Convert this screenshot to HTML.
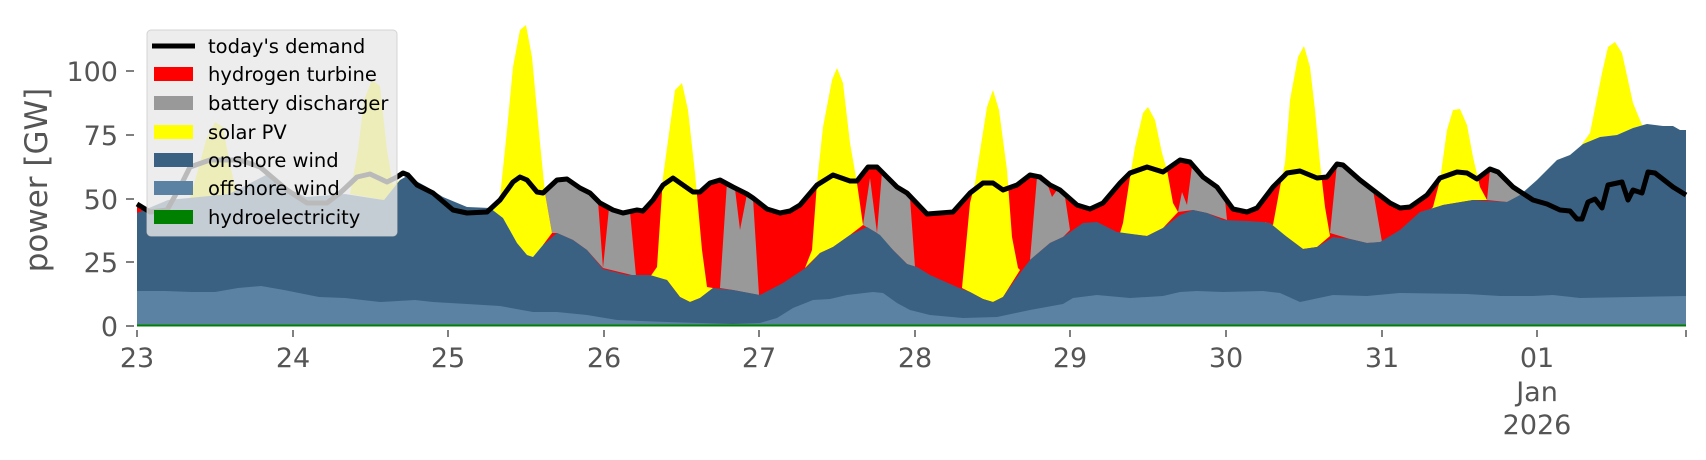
<!DOCTYPE html>
<html><head><meta charset="utf-8"><style>
html,body{margin:0;padding:0;background:#fff;}
svg{display:block;font-family:"DejaVu Sans","Liberation Sans",sans-serif;}
</style></head><body>
<svg width="1706" height="460" viewBox="0 0 1706 460" xmlns="http://www.w3.org/2000/svg">
<rect width="1706" height="460" fill="#fff"/>
<polygon fill="#ff0000" points="137,326 137,204 145,211 161,212 172,200 172,326"/>
<polygon fill="#ff0000" points="543,326 543,193 557,180 567,179 580,188 590,193 600,203 613,210 623,213 637,210 643,211 653,200 663,185 673,178 683,185 693,192 700,192 710,183 720,180 733,187 747,194 753,198 767,209 780,213 790,211 800,205 817,185 833,175 850,181 857,181 868,167 877,167 897,187 907,193 927,214 953,212 970,193 983,183 993,183 1003,190 1017,185 1030,175 1040,177 1050,185 1060,190 1077,205 1090,209 1103,203 1120,183 1130,173 1147,167 1163,172 1180,160 1190,162 1203,177 1217,187 1233,209 1247,212 1257,208 1273,187 1287,173 1300,171 1317,178 1327,177 1337,164 1343,165 1360,180 1373,190 1390,203 1400,208 1410,207 1427,195 1440,178 1457,172 1467,173 1477,179 1490,169 1498,172 1513,187 1530,198 1530,326"/>
<g fill="#999999">
<polygon points="545,193 557,180 567,179 580,188 590,193 598,201 603,268 587,250 573,240 557,233 552,233"/>
<polygon points="603,268 609,208 613,210 623,213 630,212 636,276"/>
<polygon points="720,288 727,182 733,187 735,189 740,230 747,194 753,198 759,295 733,290"/>
<polygon points="863,225 870,178 877,233"/>
<polygon points="877,233 882,172 897,187 907,193 910,198 915,267 907,264 893,250"/>
<polygon points="1030,260 1037,177 1040,177 1047,183 1052,197 1057,190 1060,190 1065,197 1070,230 1063,237 1050,243"/>
<polygon points="1178,212 1182,192 1187,205 1192,166 1203,177 1217,187 1225,200 1227,220 1207,213 1193,210"/>
<polygon points="1330,233 1337,164 1343,165 1360,180 1373,190 1382,242 1367,243 1350,239"/>
<polygon points="1487,200 1490,169 1498,172 1513,187 1522,195 1507,202"/>
</g>
<g fill="#ffff00">
<polygon points="190,198 198,170 206,140 215,122 223,127 230,165 237,194"/>
<polygon points="350,194 358,150 364,100 372,80 380,86 387,150 393,185 400,180 384,200"/>
<polygon points="490,208 500,197 507,130 513,67 520,30 526,25 532,57 540,143 545,193 552,233 543,245 533,257 527,255 517,243 503,218"/>
<polygon points="650,277 657,267 663,177 675,90 682,83 688,110 695,173 702,250 707,287 713,288 700,298 690,302 680,297 667,280"/>
<polygon points="805,268 812,250 817,183 823,127 832,80 837,68 843,83 850,143 857,183 863,225 850,235 833,247 820,253"/>
<polygon points="962,288 970,203 975,183 987,107 993,90 999,110 1007,170 1012,237 1018,268 1020,270 1003,297 993,302 983,299 970,292"/>
<polygon points="1120,233 1123,223 1130,177 1135,147 1143,113 1148,107 1155,120 1162,153 1167,170 1173,203 1178,212 1163,228 1147,236"/>
<polygon points="1265,222 1273,225 1280,187 1285,163 1290,100 1298,57 1304,46 1310,67 1315,110 1320,163 1325,207 1330,236 1317,247 1303,249 1287,237"/>
<polygon points="1430,210 1433,207 1440,180 1447,130 1453,110 1460,109 1467,125 1473,157 1480,187 1487,200 1473,200 1443,205"/>
<polygon points="1580,147 1590,133 1602,73 1608,47 1615,42 1622,53 1633,103 1642,125 1647,124 1633,128 1617,135 1600,137 1583,144"/>
</g>
<polygon fill="#3b6182" points="137,326 137,213 168,200 199,197 229,194 268,174 291,190 306,197 345,194 384,200 400,180 407,176 427,187 443,197 467,207 490,208 503,218 517,243 527,255 533,257 543,245 557,233 573,240 587,250 603,269 627,275 650,275 667,280 680,297 690,302 700,298 713,288 733,290 760,295 783,283 807,267 820,253 833,247 850,235 867,227 880,235 893,250 907,264 917,267 930,275 957,287 970,292 983,299 993,302 1003,297 1017,277 1030,260 1050,243 1063,237 1083,223 1097,222 1117,232 1147,236 1163,228 1180,215 1193,210 1207,213 1223,220 1247,221 1263,222 1270,223 1287,237 1303,249 1317,247 1333,237 1350,239 1367,243 1380,242 1400,230 1420,212 1443,205 1473,200 1490,201 1507,202 1520,195 1537,180 1557,160 1570,155 1583,144 1600,137 1617,135 1633,128 1647,124 1663,126 1673,126 1680,130 1686,130 1686,326"/>
<polygon fill="#5b82a3" points="137,326 137,291 165,291 192,292 215,292 238,288 261,286 284,290 319,297 345,298 380,302 415,300 433,302 467,304 500,306 533,312 557,312 587,315 617,320 667,322 700,323 733,324 760,323 777,318 793,308 813,300 830,299 847,295 873,292 883,293 897,303 910,310 930,315 963,318 997,317 1030,310 1063,304 1073,298 1097,295 1130,298 1163,296 1180,292 1197,291 1223,292 1263,291 1280,293 1300,302 1333,295 1367,296 1400,293 1467,294 1500,296 1533,296 1553,295 1580,298 1633,297 1686,296 1686,326"/>
<rect x="137" y="324.5" width="1549" height="2" fill="#008000"/>
<polyline fill="none" stroke="#000" stroke-width="5" stroke-linejoin="round" points="137,204 150,212 167,210 180,187 190,167 210,160 240,160 260,167 287,190 307,203 327,203 340,193 357,177 370,174 387,182 397,177 403,173 408,175 417,185 433,193 453,210 467,213 487,212 500,200 513,182 520,177 527,180 537,192 543,193 557,180 567,179 580,188 590,193 600,203 613,210 623,213 637,210 643,211 653,200 663,185 673,178 683,185 693,192 700,192 710,183 720,180 733,187 747,194 753,198 767,209 780,213 790,211 800,205 817,185 833,175 850,181 857,181 868,167 877,167 897,187 907,193 927,214 953,212 970,193 983,183 993,183 1003,190 1017,185 1030,175 1040,177 1050,185 1060,190 1077,205 1090,209 1103,203 1120,183 1130,173 1147,167 1163,172 1180,160 1190,162 1203,177 1217,187 1233,209 1247,212 1257,208 1273,187 1287,173 1300,171 1317,178 1327,177 1337,164 1343,165 1360,180 1373,190 1390,203 1400,208 1410,207 1427,195 1440,178 1457,172 1467,173 1477,179 1490,169 1498,172 1513,187 1533,200 1547,204 1560,210 1570,211 1577,219 1582,219 1588,202 1595,199 1602,208 1608,185 1622,182 1628,200 1633,190 1642,193 1648,172 1655,173 1673,187 1686,195"/>
<g stroke="#555" stroke-width="1.5">
<line x1="126" y1="326" x2="134" y2="326"/><line x1="126" y1="262" x2="134" y2="262"/>
<line x1="126" y1="199" x2="134" y2="199"/><line x1="126" y1="135" x2="134" y2="135"/>
<line x1="126" y1="71" x2="134" y2="71"/>
<line x1="137" y1="330" x2="137" y2="337"/><line x1="293" y1="330" x2="293" y2="337"/>
<line x1="448" y1="330" x2="448" y2="337"/><line x1="604" y1="330" x2="604" y2="337"/>
<line x1="759" y1="330" x2="759" y2="337"/><line x1="915" y1="330" x2="915" y2="337"/>
<line x1="1070" y1="330" x2="1070" y2="337"/><line x1="1226" y1="330" x2="1226" y2="337"/>
<line x1="1382" y1="330" x2="1382" y2="337"/><line x1="1537" y1="330" x2="1537" y2="337"/>
<line x1="1686" y1="330" x2="1686" y2="337"/>
</g>
<g fill="#555" font-size="27" text-anchor="end">
<text x="118" y="336">0</text><text x="118" y="272">25</text><text x="118" y="209">50</text>
<text x="118" y="145">75</text><text x="118" y="81">100</text>
</g>
<g fill="#555" font-size="27" text-anchor="middle">
<text x="137" y="367">23</text><text x="293" y="367">24</text><text x="448" y="367">25</text>
<text x="604" y="367">26</text><text x="759" y="367">27</text><text x="915" y="367">28</text>
<text x="1070" y="367">29</text><text x="1226" y="367">30</text><text x="1382" y="367">31</text>
<text x="1537" y="367">01</text><text x="1537" y="401">Jan</text><text x="1537" y="434">2026</text>
</g>
<text transform="translate(47,180) rotate(-90)" fill="#555" font-size="31" text-anchor="middle">power [GW]</text>
<rect x="147" y="30" width="250" height="206" rx="4" fill="#e8e8e8" fill-opacity="0.8" stroke="#cccccc" stroke-opacity="0.8"/>
<line x1="152" y1="46" x2="195" y2="46" stroke="#000" stroke-width="5"/>
<rect x="154" y="67" width="39" height="14" fill="#ff0000"/>
<rect x="154" y="96" width="39" height="14" fill="#999999"/>
<rect x="154" y="125" width="39" height="14" fill="#ffff00"/>
<rect x="154" y="153" width="39" height="14" fill="#3b6182"/>
<rect x="154" y="181" width="39" height="14" fill="#5b82a3"/>
<rect x="154" y="210" width="39" height="14" fill="#008000"/>
<g fill="#000" font-size="19.5">
<text x="208" y="53">today's demand</text>
<text x="208" y="81">hydrogen turbine</text>
<text x="208" y="110">battery discharger</text>
<text x="208" y="139">solar PV</text>
<text x="208" y="167">onshore wind</text>
<text x="208" y="195">offshore wind</text>
<text x="208" y="224">hydroelectricity</text>
</g>
</svg>
</body></html>
